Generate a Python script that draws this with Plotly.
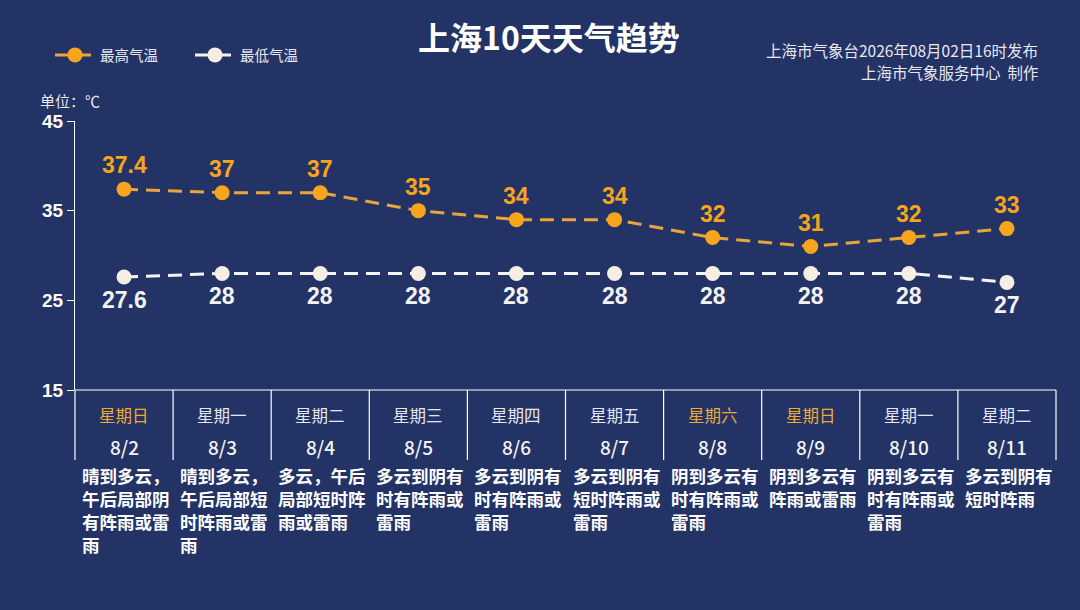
import plotly.graph_objects as go

# 10-day forecast data
weekdays = ['星期日', '星期一', '星期二', '星期三', '星期四', '星期五', '星期六', '星期日', '星期一', '星期二']
dates = ['8/2', '8/3', '8/4', '8/5', '8/6', '8/7', '8/8', '8/9', '8/10', '8/11']
high_temp = [37.4, 37, 37, 35, 34, 34, 32, 31, 32, 33]
low_temp = [27.6, 28, 28, 28, 28, 28, 28, 28, 28, 27]
weather = [
    ['晴到多云，', '午后局部阴', '有阵雨或雷', '雨'],
    ['晴到多云，', '午后局部短', '时阵雨或雷', '雨'],
    ['多云，午后', '局部短时阵', '雨或雷雨'],
    ['多云到阴有', '时有阵雨或', '雷雨'],
    ['多云到阴有', '时有阵雨或', '雷雨'],
    ['多云到阴有', '短时阵雨或', '雷雨'],
    ['阴到多云有', '时有阵雨或', '雷雨'],
    ['阴到多云有', '阵雨或雷雨'],
    ['阴到多云有', '时有阵雨或', '雷雨'],
    ['多云到阴有', '短时阵雨'],
]
weekend = [True, False, False, False, False, False, True, True, False, False]
y_ticks = [15, 25, 35, 45]

BG = '#233366'
ORANGE = '#f7a51c'
ORANGE_LINE = '#e8a53c'
CREAM = '#f5eee2'
CJK = 'Noto Sans CJK SC'
NUM = 'Liberation Sans, Arial'

x = [i + 0.5 for i in range(len(dates))]

# plot area in pixels: x 75..1056, y 121..390
fig_w, fig_h = 1080, 610
plot_left, plot_right = 75, 1056
plot_top, plot_bottom = 121, 390
plot_w = plot_right - plot_left
plot_h = plot_bottom - plot_top


def py(pixel):
    # pixel row -> paper y
    return (plot_bottom - pixel) / plot_h


def px(pixel):
    # pixel column -> paper x
    return (pixel - plot_left) / plot_w


fig = go.Figure()

fig.add_trace(go.Scatter(
    x=x, y=high_temp, mode='lines+markers', name='最高气温',
    line=dict(color=ORANGE_LINE, width=3, dash='14px,8px'),
    marker=dict(size=15, color=ORANGE),
))
fig.add_trace(go.Scatter(
    x=x, y=low_temp, mode='lines+markers', name='最低气温',
    line=dict(color='#f4f4f4', width=3, dash='14px,8px'),
    marker=dict(size=15, color=CREAM),
))

# value labels
for xi, hi, lo in zip(x, high_temp, low_temp):
    fig.add_annotation(x=xi, y=hi, text=f'<b>{hi:g}</b>', showarrow=False, yshift=24,
                       font=dict(family=NUM, size=23, color=ORANGE))
    fig.add_annotation(x=xi, y=lo, text=f'<b>{lo:g}</b>', showarrow=False, yshift=-23,
                       font=dict(family=NUM, size=23, color='#f2f2f2'))

# table below the chart
n = len(dates)
table_bottom = py(460)
fig.add_shape(type='line', xref='paper', yref='paper', x0=0, x1=1, y0=0, y1=0,
              line=dict(color='white', width=1.2))
for i in range(n + 1):
    fig.add_shape(type='line', xref='paper', yref='paper', x0=i / n, x1=i / n,
                  y0=0, y1=table_bottom, line=dict(color='white', width=1.2))

for i in range(n):
    wd_color = '#eeaa35' if weekend[i] else '#e4e7f0'
    fig.add_annotation(x=x[i], y=py(415), xref='x', yref='paper', text=weekdays[i],
                       showarrow=False, yanchor='middle',
                       font=dict(family=CJK, size=16.5, color=wd_color))
    fig.add_annotation(x=x[i], y=py(446), xref='x', yref='paper', text=dates[i],
                       showarrow=False, yanchor='middle',
                       font=dict(family=CJK, size=19, color='#f2f2f2', weight=500))
    for j, line in enumerate(weather[i]):
        fig.add_annotation(x=i, y=py(475 + 23 * j), xref='x', yref='paper', text=f'<b>{line}</b>',
                           showarrow=False, xanchor='left', yanchor='middle', xshift=5,
                           font=dict(family=CJK, size=17.5, color='white'))

# header texts
fig.add_annotation(x=px(549), y=py(36), xref='paper', yref='paper', text='<b>上海10天天气趋势</b>',
                   showarrow=False, yanchor='middle',
                   font=dict(family=CJK, size=32, color='white'))
fig.add_annotation(x=px(1040), y=py(50), xref='paper', yref='paper',
                   text='上海市气象台2026年08月02日16时发布', showarrow=False,
                   xanchor='right', yanchor='middle',
                   font=dict(family=CJK, size=15.5, color='#e8e8ee'))
fig.add_annotation(x=px(1040), y=py(72), xref='paper', yref='paper',
                   text='上海市气象服务中心  制作', showarrow=False,
                   xanchor='right', yanchor='middle',
                   font=dict(family=CJK, size=15.5, color='#e8e8ee'))
fig.add_annotation(x=px(38), y=py(100), xref='paper', yref='paper',
                   text='单位：℃', showarrow=False, xanchor='left', yanchor='middle',
                   font=dict(family=CJK, size=15, color='#e8e8ee'))

fig.update_layout(
    width=fig_w, height=fig_h,
    margin=dict(l=plot_left, r=fig_w - plot_right, t=plot_top, b=fig_h - plot_bottom),
    paper_bgcolor=BG, plot_bgcolor=BG,
    showlegend=True,
    legend=dict(orientation='h', x=px(50), y=py(55), yanchor='middle', xanchor='left',
                font=dict(family=CJK, size=14.5, color='#e8e8ee'), bgcolor='rgba(0,0,0,0)',
                itemwidth=40, entrywidth=85),
    xaxis=dict(range=[0, n], visible=False, fixedrange=True),
    yaxis=dict(range=[15, 45], tickvals=y_ticks, ticktext=[f'<b>{t}</b>' for t in y_ticks],
               showgrid=False, zeroline=False, fixedrange=True,
               showline=True, linecolor='white', linewidth=1.2,
               ticks='outside', ticklen=7, tickcolor='white', tickwidth=1.2,
               tickfont=dict(family=NUM, size=19, color='white')),
)

fig.write_html("out.html", config={'displayModeBar': False},
               post_script="document.body.style.margin='0';")
